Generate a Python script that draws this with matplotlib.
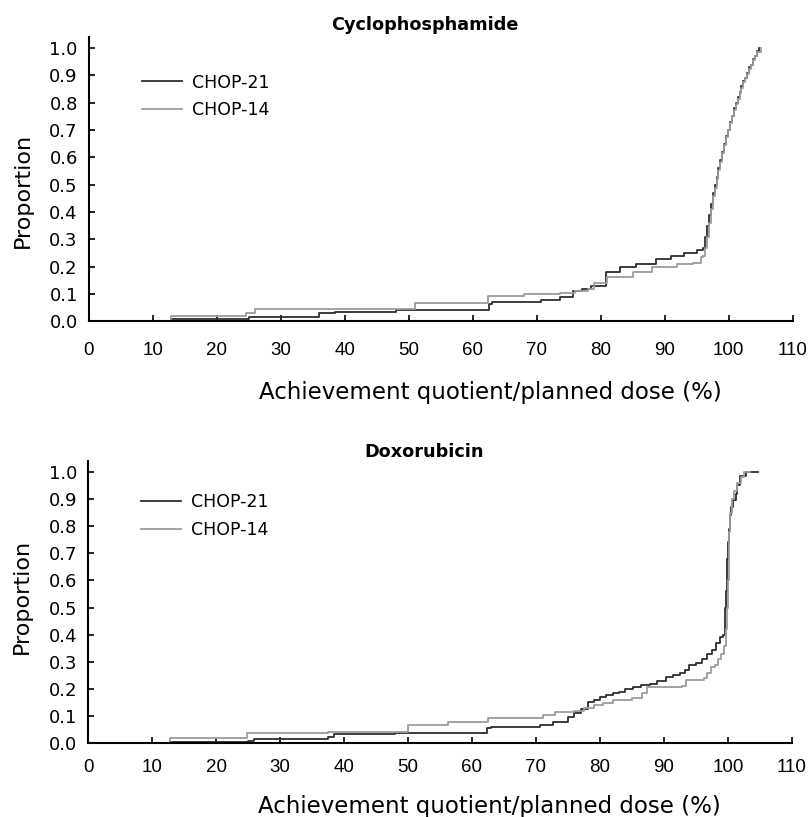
import matplotlib
matplotlib.use("Agg")
import matplotlib.pyplot as plt

# Cyclophosphamide (x = % of planned dose, y = proportion)
cyc21_x = [0, 12.8, 25.0, 36.0, 38.5, 48.0, 62.5, 63.0, 70.7, 73.6, 75.6, 77.0, 78.5, 80.9,
           83.0, 85.5, 88.7, 91.0, 93.0, 95.0, 96.0, 96.3, 96.6, 96.9, 97.2, 97.5, 97.8,
           98.1, 98.4, 98.7, 99.0, 99.3, 99.6, 99.9, 100.2, 100.5, 100.8, 101.1, 101.4,
           101.7, 102.0, 102.3, 102.6, 102.9, 103.2, 103.5, 103.8, 104.1, 104.4, 104.8]
cyc21_y = [0, 0.008, 0.015, 0.03, 0.035, 0.042, 0.065, 0.07, 0.078, 0.09, 0.11, 0.12, 0.13, 0.18,
           0.2, 0.21, 0.23, 0.24, 0.25, 0.26, 0.27, 0.31, 0.35, 0.39, 0.43, 0.47, 0.50,
           0.53, 0.56, 0.59, 0.62, 0.65, 0.68, 0.70, 0.73, 0.75, 0.78, 0.80, 0.82,
           0.84, 0.86, 0.88, 0.89, 0.91, 0.93, 0.94, 0.96, 0.97, 0.99, 1.0]
cyc14_x = [0, 12.8, 24.6, 26.0, 48.6, 51.0, 62.4, 68.0, 73.6, 76.0, 78.0, 79.0, 81.0, 85.0,
           88.0, 92.0, 94.4, 95.7, 96.0, 96.3, 96.6, 96.9, 97.2, 97.5, 97.8, 98.1, 98.4,
           98.7, 99.0, 99.3, 99.6, 99.9, 100.2, 100.5, 100.8, 101.1, 101.4, 101.7, 102.0,
           102.3, 102.6, 102.9, 103.2, 103.5, 103.8, 104.1, 104.4, 105.0]
cyc14_y = [0, 0.02, 0.03, 0.045, 0.045, 0.068, 0.095, 0.1, 0.106, 0.11, 0.12, 0.14, 0.162, 0.18,
           0.2, 0.21, 0.215, 0.235, 0.24, 0.27, 0.31, 0.36, 0.41, 0.46, 0.49, 0.52, 0.555,
           0.585, 0.615, 0.645, 0.675, 0.70, 0.725, 0.75, 0.775, 0.795, 0.815, 0.835, 0.855,
           0.875, 0.89, 0.905, 0.925, 0.94, 0.955, 0.97, 0.985, 1.0]

# Doxorubicin
dox21_x = [0, 12.8, 25.0, 26.0, 37.5, 38.5, 48.0, 62.3, 63.0, 70.6, 72.7, 75.0, 76.0, 77.0,
           78.1, 79.0, 80.0, 81.0, 82.0, 83.0, 84.0, 85.2, 86.5, 87.8, 89.0, 90.4, 91.5,
           92.5, 93.3, 94.0, 95.0, 96.0, 96.7, 97.5, 98.2, 98.75, 99.3, 99.5, 99.6, 99.7,
           99.8, 99.9, 100.0, 100.1, 100.3, 100.5, 100.8, 101.2, 101.5, 101.9, 102.9, 104.7]
dox21_y = [0, 0.005, 0.01, 0.015, 0.025, 0.035, 0.039, 0.055, 0.06, 0.067, 0.08, 0.098, 0.11, 0.125,
           0.153, 0.16, 0.17, 0.178, 0.185, 0.19, 0.2, 0.208, 0.213, 0.22, 0.23, 0.245, 0.25,
           0.26, 0.27, 0.288, 0.295, 0.31, 0.33, 0.345, 0.37, 0.393, 0.40, 0.45, 0.5, 0.56,
           0.62, 0.68, 0.74, 0.79, 0.84, 0.87, 0.897, 0.92, 0.95, 0.985, 1.0, 1.0]
dox14_x = [0, 12.8, 24.8, 37.5, 50.0, 56.3, 62.5, 71.1, 73.0, 76.0, 77.5, 79.0, 80.5, 82.0,
           85.0, 86.6, 87.3, 92.8, 93.5, 96.2, 96.8, 97.4, 98.0, 98.5, 99.0, 99.4, 99.7,
           99.9, 100.0, 100.1, 100.2, 100.4, 100.6, 101.0, 101.5, 102.0, 102.5, 103.5]
dox14_y = [0, 0.018, 0.037, 0.04, 0.067, 0.08, 0.092, 0.104, 0.115, 0.12, 0.13, 0.14, 0.15, 0.159,
           0.166, 0.185, 0.209, 0.212, 0.233, 0.24, 0.26, 0.28, 0.29, 0.31, 0.33, 0.36, 0.42,
           0.5, 0.6, 0.7, 0.78, 0.85, 0.9, 0.93, 0.96, 0.98, 1.0, 1.0]

labels = ["CHOP-21", "CHOP-14"]
xticks = list(range(0, 111, 10))
yticks = [i / 10 for i in range(11)]

DARK = "#2e2e2e"
LIGHT = "#9c9c9c"


def draw_panel(ax, title, x21, y21, x14, y14, lay):
    ax.step(x21, y21, where="post", color=DARK, lw=1.3, label=labels[0])
    ax.step(x14, y14, where="post", color=LIGHT, lw=1.3, label=labels[1])
    ax.set_xlim(0, 110)
    ax.set_ylim(0, 1.04)
    ax.set_xticks(xticks)
    ax.set_yticks(yticks)
    ax.set_yticklabels([f"{t:.1f}" for t in yticks])
    ax.spines["top"].set_visible(False)
    ax.spines["right"].set_visible(False)
    ax.spines["left"].set_linewidth(1.5)
    ax.spines["bottom"].set_linewidth(1.5)
    ax.tick_params(direction="in", length=4, width=1.2)
    ax.tick_params(axis="x", pad=lay["xpad"], labelsize=13.5,
                   labelfontfamily="Liberation Sans")
    ax.tick_params(axis="y", pad=8, labelsize=13)
    ax.set_ylabel("Proportion", fontsize=16)
    ax.yaxis.set_label_coords(-0.08, lay["ylab_y"])
    ax.set_xlabel("Achievement quotient/planned dose (%)", fontsize=16.5)
    ax.xaxis.set_label_coords(0.57, lay["xlab_y"])
    ax.text(0.477, lay["title_y"], title, transform=ax.transAxes, ha="center", va="center",
            fontsize=12.7, fontweight="bold")
    ax.legend(loc="upper left", bbox_to_anchor=(0.075, lay["leg_y"]), frameon=False,
              fontsize=12.5, handlelength=2.3, handletextpad=0.6,
              labelspacing=0.55, borderpad=0, borderaxespad=0)


def main():
    fig = plt.figure(figsize=(8.08, 8.17), dpi=100)
    ax1 = fig.add_axes([0.110, 0.6065, 0.871, 0.348])
    ax2 = fig.add_axes([0.109, 0.0902, 0.871, 0.3455])
    draw_panel(ax1, "Cyclophosphamide", cyc21_x, cyc21_y, cyc14_x, cyc14_y,
               dict(xpad=15, ylab_y=0.462, xlab_y=-0.209, title_y=1.042, leg_y=0.872))
    draw_panel(ax2, "Doxorubicin", dox21_x, dox21_y, dox14_x, dox14_y,
               dict(xpad=11, ylab_y=0.52, xlab_y=-0.183, title_y=1.032, leg_y=0.885))
    fig.savefig("out.png", dpi=100)


if __name__ == "__main__":
    main()
